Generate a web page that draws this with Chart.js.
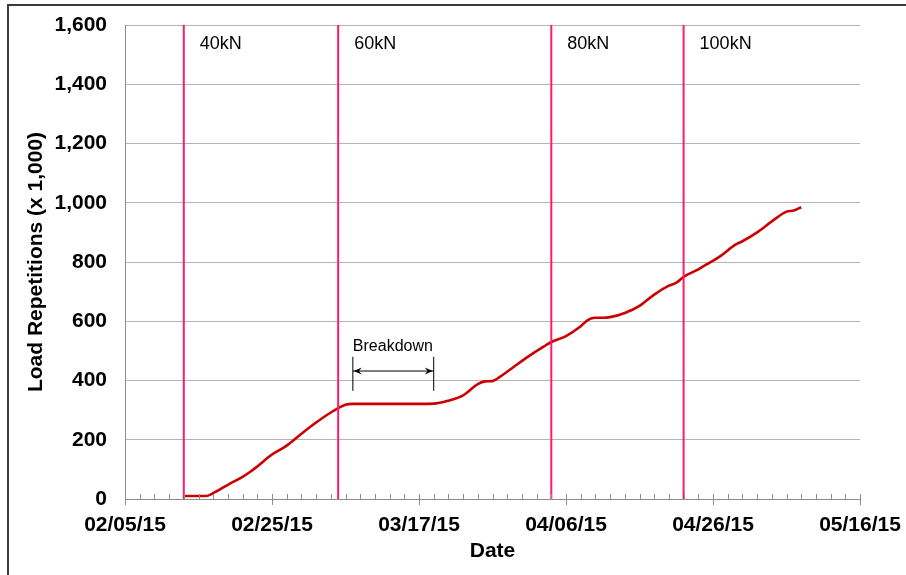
<!DOCTYPE html>
<html>
<head>
<meta charset="utf-8">
<title>Load Repetitions</title>
<script src="https://cdn.jsdelivr.net/npm/chart.js@4/dist/chart.umd.min.js"></script>
<style>
    body { margin: 0; background: #fff; }
    #wrap { width: 906px; height: 575px; }
</style>
</head>
<body>
<div id="wrap"><canvas id="loadChart" width="906" height="575"></canvas></div>
<script>
// Dates (MM/DD/YY) and cumulative load repetitions (x 1,000)
const dates = ['02/13/15', '02/16/15', '02/17/15', '02/19/15', '02/21/15', '02/22/15', '02/23/15',
    '02/25/15', '02/27/15', '03/01/15', '03/03/15', '03/05/15', '03/07/15', '03/08/15', '03/11/15',
    '03/15/15', '03/19/15', '03/21/15', '03/23/15', '03/25/15', '03/26/15', '03/27/15', '03/28/15',
    '03/30/15', '04/01/15', '04/03/15', '04/04/15', '04/06/15', '04/08/15', '04/09/15', '04/10/15',
    '04/11/15', '04/12/15', '04/14/15', '04/16/15', '04/18/15', '04/20/15', '04/21/15', '04/22/15',
    '04/24/15', '04/25/15', '04/27/15', '04/29/15', '04/30/15', '05/02/15', '05/04/15', '05/06/15',
    '05/07/15', '05/08/15'];
const repetitions = [10, 10, 20, 48, 75, 91, 110,
    150, 180, 220, 258, 292, 318, 321, 321,
    321, 322, 332, 350, 388, 397, 398, 412,
    448, 483, 515, 530, 550, 583, 605, 612,
    612, 614, 628, 652, 690, 720, 730, 750,
    775, 790, 820, 858, 870, 900, 937, 970,
    974, 985];

// Load level changes
const loadDates = ['02/13/15', '03/06/15', '04/04/15', '04/22/15'];
const loadLabels = ['40kN', '60kN', '80kN', '100kN'];

// Breakdown period
const breakdownDates = ['03/08/15', '03/19/15'];

// Axis tick labels
const xTickLabels = ['02/05/15', '02/25/15', '03/17/15', '04/06/15', '04/26/15', '05/16/15'];
const yTicks = [0, 200, 400, 600, 800, 1000, 1200, 1400, 1600];

const FONT = "'Liberation Sans', Arial, sans-serif";

// Days since the first axis date
function dayOf(s) {
    const p = s.split('/');
    const base = Date.UTC(2015, 1, 5);
    return (Date.UTC(2000 + Number(p[2]), Number(p[0]) - 1, Number(p[1])) - base) / 86400000;
}

const xMax = dayOf(xTickLabels[xTickLabels.length - 1]);
const yMax = yTicks[yTicks.length - 1];

const loadSets = loadDates.map(function(d, i) {
    return {
        label: loadLabels[i],
        data: [{ x: dayOf(d), y: 0 }, { x: dayOf(d), y: yMax }],
        borderColor: '#FF1A6E',
        borderWidth: 2,
        pointRadius: 0,
        order: 0
    };
});

const mainSet = {
    label: 'Load Repetitions',
    data: dates.map(function(d, i) { return { x: dayOf(d), y: repetitions[i] }; }),
    borderColor: '#CC0000',
    borderWidth: 2.6,
    pointRadius: 0,
    cubicInterpolationMode: 'monotone',
    order: 1
};

// Frame, axis ticks and text annotations
const decorPlugin = {
    id: 'decor',
    beforeDraw: function(chart) {
        const c = chart.ctx;
        c.save();
        c.fillStyle = '#fff';
        c.fillRect(0, 0, chart.width, chart.height);
        c.strokeStyle = '#3c3c3c';
        c.lineWidth = 2;
        c.strokeRect(8, 5, chart.width + 20, chart.height + 20);
        c.restore();
    },
    afterDatasetsDraw: function(chart) {
        const c = chart.ctx;
        const xs = chart.scales.x;
        const ys = chart.scales.y;
        const bottom = chart.chartArea.bottom;
        c.save();

        // minor ticks every 2 days, major ticks every 20 days
        c.strokeStyle = '#8c8c8c';
        c.lineWidth = 1;
        c.beginPath();
        for (let d = 0; d <= xMax; d += 2) {
            const px = Math.round(xs.getPixelForValue(d)) + 0.5;
            c.moveTo(px, bottom - 5);
            c.lineTo(px, d % 20 === 0 ? bottom + 6 : bottom);
        }
        c.stroke();

        // load labels
        c.fillStyle = '#000';
        c.font = '18px ' + FONT;
        c.textBaseline = 'alphabetic';
        loadDates.forEach(function(d, i) {
            c.fillText(loadLabels[i], xs.getPixelForValue(dayOf(d)) + 16, chart.chartArea.top + 24);
        });

        // breakdown bracket
        const x1 = xs.getPixelForValue(dayOf(breakdownDates[0]));
        const x2 = xs.getPixelForValue(dayOf(breakdownDates[1]));
        const yTop = ys.getPixelForValue(480);
        const yBot = ys.getPixelForValue(365);
        const yArr = ys.getPixelForValue(432);
        c.strokeStyle = '#000';
        c.lineWidth = 1;
        c.beginPath();
        c.moveTo(x1, yTop); c.lineTo(x1, yBot);
        c.moveTo(x2, yTop); c.lineTo(x2, yBot);
        c.moveTo(x1, yArr); c.lineTo(x2, yArr);
        c.stroke();
        c.beginPath();
        c.moveTo(x1 + 1, yArr); c.lineTo(x1 + 9, yArr - 3.5); c.lineTo(x1 + 6, yArr); c.lineTo(x1 + 9, yArr + 3.5); c.closePath();
        c.moveTo(x2 - 1, yArr); c.lineTo(x2 - 9, yArr - 3.5); c.lineTo(x2 - 6, yArr); c.lineTo(x2 - 9, yArr + 3.5); c.closePath();
        c.fill();
        c.font = '16px ' + FONT;
        c.fillText('Breakdown', x1, ys.getPixelForValue(500));
        c.restore();
    }
};

new Chart(document.getElementById('loadChart'), {
    type: 'line',
    data: { datasets: loadSets.concat([mainSet]) },
    options: {
        responsive: false,
        devicePixelRatio: 1,
        animation: false,
        layout: { padding: { left: 10, right: 46, top: 25, bottom: 0 } },
        plugins: {
            legend: { display: false },
            tooltip: { enabled: false }
        },
        scales: {
            x: {
                type: 'linear',
                min: 0,
                max: xMax,
                afterFit: function(scale) { scale.height = 76; },
                ticks: {
                    stepSize: 20,
                    padding: 0,
                    maxRotation: 0,
                    color: '#000',
                    font: { family: FONT, size: 21, weight: 'bold' },
                    callback: function(v) { return xTickLabels[Math.round(v / 20)]; }
                },
                grid: { drawOnChartArea: false, tickLength: 14, tickColor: 'rgba(0,0,0,0)' },
                border: { color: '#8c8c8c' },
                title: {
                    display: true,
                    text: 'Date',
                    color: '#000',
                    padding: { top: 0, bottom: 11 },
                    font: { family: FONT, size: 21, weight: 'bold' }
                }
            },
            y: {
                min: 0,
                max: yMax,
                afterFit: function(scale) { scale.width = 115; },
                afterBuildTicks: function(scale) { scale.ticks = yTicks.map(function(v) { return { value: v }; }); },
                ticks: {
                    padding: 0,
                    color: '#000',
                    font: { family: FONT, size: 21, weight: 'bold' },
                    callback: function(v) { return v.toLocaleString('en-US'); }
                },
                grid: { color: '#b4b4b4', tickLength: 18, tickColor: 'rgba(0,0,0,0)' },
                border: { color: '#8c8c8c' },
                title: {
                    display: true,
                    text: 'Load Repetitions (x 1,000)',
                    color: '#000',
                    padding: { top: 14, bottom: 0 },
                    font: { family: FONT, size: 21, weight: 'bold' }
                }
            }
        }
    },
    plugins: [decorPlugin]
});
</script>
</body>
</html>
